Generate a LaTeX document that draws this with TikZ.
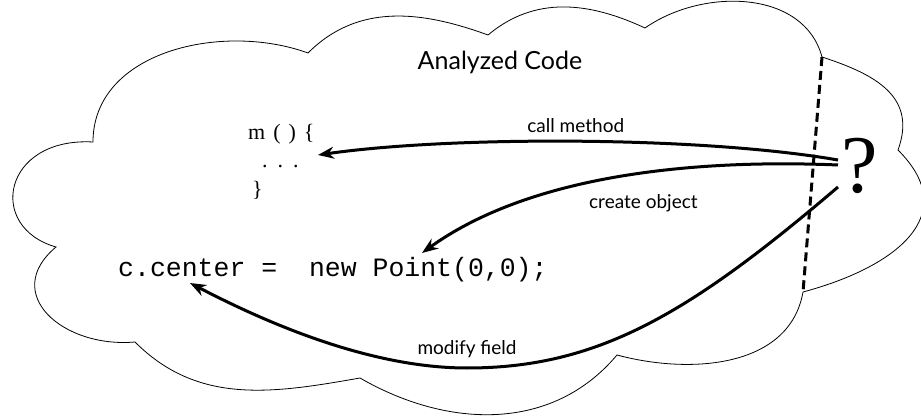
\documentclass[tikz,border=0pt]{standalone}
\usepackage{fontspec}
\setmainfont{Liberation Serif}
\newfontfamily\gillfont{Lato}
\newfontfamily\codefont{Liberation Mono}
\usetikzlibrary{arrows.meta}

\begin{document}
\begin{tikzpicture}[x=1pt,y=1pt,
	flow/.style={line width=3pt, -{Stealth[length=16pt,width=12pt]}},
	lbl/.style={font=\gillfont\fontsize{19}{22}\selectfont},
	code/.style={inner sep=0pt, anchor=base west}]
	% Ramka
	\useasboundingbox (0,0) rectangle (921,418);
	
	% Punkty chmury
	\coordinate (K0) at (93,276);
	\coordinate (A) at (308,365);
	\coordinate (B) at (488,383);
	\coordinate (C) at (645,390);
	\coordinate (ctop) at (822,361);
	\coordinate (E) at (898,268);
	\coordinate (cbot) at (803,126);
	\coordinate (G) at (617,63);
	\coordinate (H) at (360,40);
	\coordinate (I) at (135,76);
	\coordinate (J) at (56,171);
	
	% Chmura
	\draw[line width=0.8pt] (K0) to[out=90,in=160] (A) to[out=45,in=160] (B)
		to[out=40,in=155] (C) to[out=35,in=105] (ctop)
		to[out=-18,in=70,looseness=1.2] (E) to[out=-45,in=15,looseness=1.4] (cbot)
		to[out=-100,in=-15] (G) to[out=-130,in=-30] (H)
		to[out=190,in=-45] (I) to[out=185,in=-140,looseness=1.5] (J)
		.. controls (-14,191) and (3,281) .. (K0) -- cycle;
	
	% Granica
	\draw[line width=3pt, dash pattern=on 9pt off 5pt] (ctop) -- (cbot);
	
	% Teksty
	\node[font=\gillfont\fontsize{25}{30}\selectfont] (title) at (500,356) {Analyzed Code};
	\node[code, font=\fontsize{22}{22}\selectfont] (mhead) at (248,278) {\spaceskip=8pt m ( ) \{};
	\node[code, font=\fontsize{22}{22}\selectfont] (mbody) at (262,250) {.\hspace{10pt}.\hspace{10pt}.};
	\node[code, font=\fontsize{22}{22}\selectfont] (mclose) at (252,221) {\}};
	\node[code, font=\codefont\fontsize{26.5}{26.5}\selectfont] (stmt) at (118,141) {c.center =\ \ new Point(0,0);};
	\node[inner sep=0pt, anchor=base, font=\fontsize{82}{82}\selectfont] (qm) at (860,225) {?};
	
	% Koncowki strzalek
	\coordinate (qcall) at (838,258);
	\coordinate (qnew) at (838,253);
	\coordinate (qmod) at (838,231);
	\coordinate (calltip) at (318,263);
	\coordinate (newtip) at (422,165);
	\coordinate (fieldtip) at (190,135);
	
	% Strzalki
	\draw[flow] (qcall) .. controls (700,282) and (450,282) .. (calltip)
		node[midway, above=4pt, lbl] {call method};
	\draw[flow] (qnew) .. controls (720,258) and (540,250) .. (newtip)
		node[pos=0.47, below=16pt, lbl] {create object};
	\draw[flow] (qmod) .. controls (688,103) and (597,50) .. (467,50)
		node[above=5pt, lbl] {modify field}
		.. controls (367,50) and (261,98) .. (fieldtip);
\end{tikzpicture}
\end{document}
